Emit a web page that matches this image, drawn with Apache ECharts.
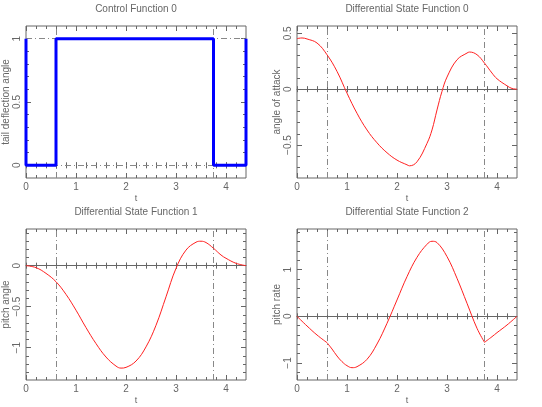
<!DOCTYPE html>
<html><head><meta charset="utf-8">
<script src="https://cdn.jsdelivr.net/npm/echarts@6/dist/echarts.min.js"></script>
<style>html,body{margin:0;padding:0;background:#fff}#c{width:542px;height:407px}</style>
</head><body><div id="c"></div>
<script>
// ---- data ----
const controlT = [0, 0, 0.6, 0.6, 3.75, 3.75, 4.4, 4.4];
const controlU = [1, 0, 0, 1, 1, 0, 0, 1];
const switchTimes = [0.6, 3.75];

const s0T = [0, 0.1, 0.2, 0.4, 0.6, 0.8, 1.0, 1.2, 1.4, 1.6, 1.8, 2.0, 2.2, 2.25, 2.4, 2.6, 2.7, 2.8, 2.9, 3.0, 3.2, 3.4, 3.45, 3.6, 3.75, 3.9, 4.0, 4.2, 4.3, 4.4];
const s0V = [0.452, 0.458, 0.449, 0.413, 0.308, 0.159, -0.036, -0.216, -0.365, -0.48, -0.569, -0.635, -0.677, -0.686, -0.65, -0.485, -0.365, -0.186, -0.02, 0.108, 0.263, 0.323, 0.332, 0.308, 0.233, 0.144, 0.093, 0.03, 0.006, 0];

const s1T = [0, 0.2, 0.4, 0.6, 0.8, 1.0, 1.2, 1.4, 1.6, 1.8, 1.9, 2.0, 2.2, 2.4, 2.6, 2.8, 3.0, 3.2, 3.4, 3.5, 3.6, 3.75, 3.9, 4.0, 4.2, 4.4];
const s1V = [0, -0.024, -0.094, -0.196, -0.35, -0.543, -0.755, -0.95, -1.114, -1.224, -1.249, -1.24, -1.163, -0.99, -0.727, -0.38, -0.033, 0.19, 0.286, 0.298, 0.282, 0.212, 0.13, 0.09, 0.029, 0];

const s2T = [0, 0.2, 0.4, 0.6, 0.7, 0.8, 0.9, 1.0, 1.1, 1.2, 1.4, 1.6, 1.8, 2.0, 2.2, 2.4, 2.6, 2.7, 2.8, 3.0, 3.2, 3.4, 3.6, 3.75, 3.9, 4.0, 4.2, 4.4];
const s2V = [0, -0.207, -0.4, -0.564, -0.7, -0.85, -0.971, -1.057, -1.1, -1.079, -0.921, -0.593, -0.15, 0.35, 0.85, 1.264, 1.543, 1.607, 1.579, 1.279, 0.814, 0.279, -0.257, -0.557, -0.436, -0.35, -0.186, 0];

const tTicks = [0, 1, 2, 3, 4];
const titles = ['Control Function 0', 'Differential State Function 0', 'Differential State Function 1', 'Differential State Function 2'];
const yNames = ['tail deflection angle', 'angle of attack', 'pitch angle', 'pitch rate'];
const yTicks = [[0, 0.5, 1], [-0.5, 0, 0.5], [-1, -0.5, 0], [-1, 0, 1]];
const yMinorSteps = [0.1, 0.1, 0.1, 0.2];
const yRanges = [[-0.1, 1.1], [-0.795, 0.565], [-1.394, 0.447], [-1.364, 1.87]];

// ---- layout ----
const gridBoxes = [
  {left: 26, top: 26, width: 220, height: 152},
  {left: 297, top: 26, width: 220, height: 152},
  {left: 26, top: 229, width: 220, height: 151},
  {left: 297, top: 229, width: 220, height: 151}
];
const gray = '#666';
const txt = '#666';
const font = 'Liberation Sans';
const X_MIN = 0, X_MAX = 4.4;

function rng(lo, hi, step) {
  const out = [];
  const s = Math.ceil(lo / step - 1e-9);
  for (let k = s; k * step <= hi + 1e-9; k++) out.push(+(k * step).toFixed(6));
  return out;
}
const fmt = v => v < 0 ? '\u2212' + (-v) : String(v);

const xAxes = [], yAxes = [], series = [], title = [];
const mainX = [], mainY = [];

function tickAxis(dim, g, pos, ticks, len, inside, extra) {
  const r = yRanges[g];
  const ax = {
    type: 'value', gridIndex: g, position: pos,
    min: dim === 'x' ? X_MIN : r[0], max: dim === 'x' ? X_MAX : r[1],
    axisLine: {show: false, onZero: false},
    splitLine: {show: false},
    axisTick: {show: true, inside: inside, length: len, customValues: ticks, lineStyle: {color: gray, width: 1}},
    axisLabel: {show: false, customValues: ticks}
  };
  if (extra) extra(ax);
  (dim === 'x' ? xAxes : yAxes).push(ax);
  return (dim === 'x' ? xAxes : yAxes).length - 1;
}

const dashDot = {color: '#888', width: 1, type: [6, 3, 1, 3]};

for (let g = 0; g < 4; g++) {
  const b = gridBoxes[g];
  const r = yRanges[g];
  const xMinor = rng(X_MIN, X_MAX, 0.2).filter(v => v > X_MIN && v < X_MAX);
  const yMinor = rng(r[0], r[1], yMinorSteps[g]).filter(v => v > r[0] && v < r[1]);
  mainX[g] = tickAxis('x', g, 'bottom', tTicks, 5, true, ax => {
    ax.axisLabel = {show: true, customValues: tTicks, color: txt, fontSize: 10, fontFamily: font, margin: 4, formatter: fmt};
    ax.name = 't'; ax.nameLocation = 'middle'; ax.nameGap = 16; ax.nameMoveOverlap = false;
    ax.nameTextStyle = {color: txt, fontSize: 9, fontFamily: font};
  });
  tickAxis('x', g, 'bottom', xMinor, 3, true);
  tickAxis('x', g, 'top', tTicks, 5, true);
  tickAxis('x', g, 'top', xMinor, 3, true);
  tickAxis('x', g, 'bottom', xMinor.concat(tTicks), 3, true, ax => {
    ax.axisLine = {show: g > 0, onZero: true, lineStyle: {color: gray, width: 1}};
  });
  tickAxis('x', g, 'bottom', xMinor.concat(tTicks), 3, false, ax => {
    ax.axisLine = {show: false, onZero: true};
  });
  mainY[g] = tickAxis('y', g, 'left', yTicks[g], 5, true, ax => {
    ax.axisLabel = {show: true, customValues: yTicks[g], rotate: 90, color: txt, fontSize: 10, fontFamily: font, margin: 4, formatter: fmt};
    ax.name = yNames[g]; ax.nameLocation = 'middle'; ax.nameGap = 15; ax.nameMoveOverlap = false;
    ax.nameTextStyle = {color: txt, fontSize: 10, fontFamily: font};
  });
  tickAxis('y', g, 'left', yMinor, 3, true);
  tickAxis('y', g, 'right', yTicks[g], 5, true);
  tickAxis('y', g, 'right', yMinor, 3, true);

  title.push({
    text: titles[g], left: b.left + b.width / 2, top: b.top - 22, textAlign: 'center', padding: 0,
    textStyle: {color: txt, fontSize: 10, fontWeight: 'normal', fontFamily: font}
  });
}

const vLines = switchTimes.map(t => ({xAxis: t}));
function guideSeries(g, extra) {
  series.push({
    type: 'line', xAxisIndex: mainX[g], yAxisIndex: mainY[g], data: [], z: 1,
    markLine: {silent: true, z: 1, symbol: ['none', 'none'], label: {show: false}, lineStyle: dashDot,
      data: extra.concat(vLines)}
  });
}

guideSeries(0, [{yAxis: 0}, {yAxis: 1}]);
series.push({
  type: 'line', xAxisIndex: mainX[0], yAxisIndex: mainY[0],
  data: controlT.map((t, i) => [t, controlU[i]]),
  symbol: 'none', lineStyle: {color: '#0000ff', width: 3}, z: 10
});

function stateSeries(g, T, V, splitAtSwitches) {
  guideSeries(g, []);
  const pts = T.map((t, i) => [t, V[i]]);
  let segs = [pts];
  if (splitAtSwitches) {
    const bounds = [X_MIN].concat(switchTimes, [X_MAX]);
    segs = [];
    for (let k = 0; k < bounds.length - 1; k++)
      segs.push(pts.filter(p => p[0] >= bounds[k] && p[0] <= bounds[k + 1]));
  }
  segs.forEach(d => {
    series.push({
      type: 'line', xAxisIndex: mainX[g], yAxisIndex: mainY[g], data: d,
      symbol: 'none', smooth: 0.4, lineStyle: {color: '#ff2020', width: 1}, z: 10
    });
  });
}
stateSeries(1, s0T, s0V, false);
stateSeries(2, s1T, s1V, false);
stateSeries(3, s2T, s2V, true);

const chart = echarts.init(document.getElementById('c'), null, {renderer: 'canvas'});
chart.setOption({
  animation: false,
  backgroundColor: '#fff',
  title: title,
  grid: gridBoxes.map(b => Object.assign({show: true, borderColor: gray, borderWidth: 1, backgroundColor: 'transparent'}, b)),
  xAxis: xAxes,
  yAxis: yAxes,
  series: series
});
</script>
</body></html>
